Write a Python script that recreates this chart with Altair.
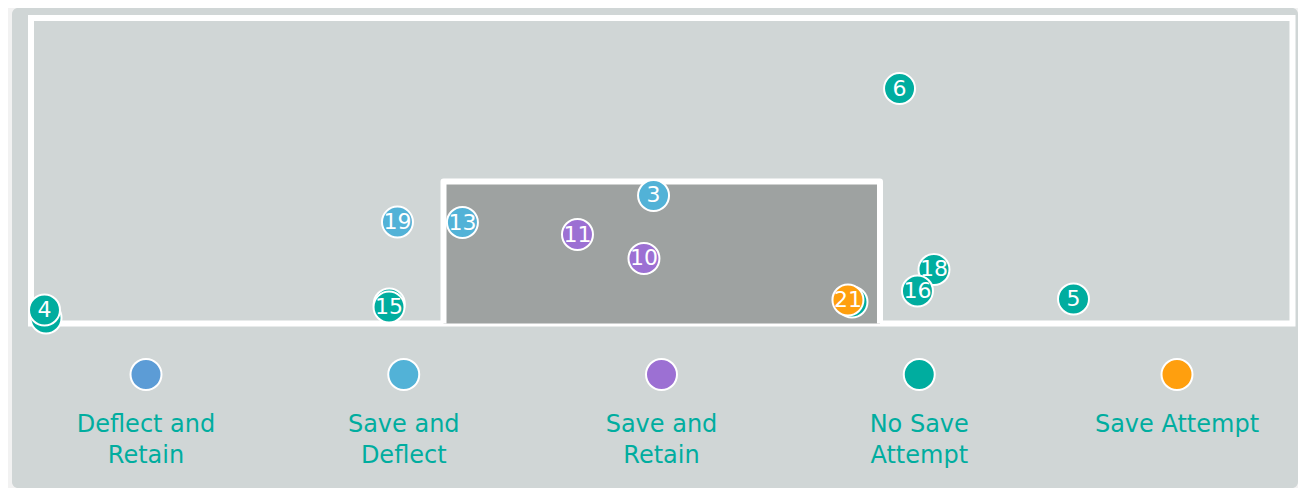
import altair as alt
import pandas as pd

# ---- data -------------------------------------------------------------
outcomes = ["Deflect and Retain", "Save and Deflect", "Save and Retain",
            "No Save Attempt", "Save Attempt"]
outcome_labels = ["Deflect and\nRetain", "Save and\nDeflect", "Save and\nRetain",
                  "No Save\nAttempt", "Save Attempt"]
outcome_colors = ["#5c9cd6", "#52b2d7", "#9c70d3", "#00ad9f", "#ff9f0e"]

# shots (field units: frame 0-100 wide, 0-100 tall); hidden shots first
shot_num = ["", "", "", "6", "3", "19", "13", "11", "10", "18", "16", "5", "21", "15", "4"]
shot_x = [1.19, 28.4, 65.08, 68.85, 49.35, 29.05, 34.2, 43.32, 48.59, 71.58, 70.27,
          82.64, 64.76, 28.38, 1.07]
shot_y = [1.8, 6.4, 7.04, 76.9, 41.9, 33.2, 33.06, 29.13, 21.28, 17.68, 10.64,
          8.02, 7.69, 5.4, 4.42]
shot_outcome = ["No Save Attempt", "No Save Attempt", "No Save Attempt",
                "No Save Attempt", "Save and Deflect", "Save and Deflect",
                "Save and Deflect", "Save and Retain", "Save and Retain",
                "No Save Attempt", "No Save Attempt", "No Save Attempt",
                "Save Attempt", "No Save Attempt", "No Save Attempt"]

frame_x = [0, 100]
frame_y = [0, 100]
goal_x = [32.7, 67.3]
goal_top = 46.5

# ---- tables -----------------------------------------------------------
shots = pd.DataFrame({"num": shot_num, "x": shot_x, "y": shot_y, "outcome": shot_outcome})
frame = pd.DataFrame({"x": [frame_x[0]], "x2": [frame_x[1]],
                      "y": [frame_y[0]], "y2": [frame_y[1]]})
goal = pd.DataFrame({"x": [goal_x[0]], "x2": [goal_x[1]], "y": [0], "y2": [goal_top]})
goal_line = pd.DataFrame({"o": [0, 1, 2, 3],
                          "x": [goal_x[0], goal_x[0], goal_x[1], goal_x[1]],
                          "y": [0, goal_top, goal_top, 0]})
legend = pd.DataFrame({"outcome": outcomes, "label": outcome_labels})

# ---- scales -----------------------------------------------------------
fx = alt.Scale(domain=[0, 100], range=[19, 1280.5], nice=False, zero=False)
fy = alt.Scale(domain=[0, 100], range=[315.5, 10], nice=False, zero=False)
col = alt.Scale(domain=outcomes, range=outcome_colors)
lx = alt.Scale(type="point", domain=outcomes, range=[134, 1165], padding=0)

frame_l = alt.Chart(frame).mark_rect(fillOpacity=0, stroke="white", strokeWidth=6).encode(
    x=alt.X("x:Q", scale=fx, axis=None), x2="x2:Q",
    y=alt.Y("y:Q", scale=fy, axis=None), y2="y2:Q")

goal_l = alt.Chart(goal).mark_rect(fill="#9ea2a1", strokeWidth=0).encode(
    x=alt.X("x:Q", scale=fx, axis=None), x2="x2:Q",
    y=alt.Y("y:Q", scale=fy, axis=None), y2="y2:Q")

goal_posts = alt.Chart(goal_line).mark_line(color="white", strokeWidth=6,
                                            strokeJoin="round").encode(
    x=alt.X("x:Q", scale=fx, axis=None),
    y=alt.Y("y:Q", scale=fy, axis=None),
    order="o:Q")

pts = alt.Chart(shots).mark_circle(size=960, opacity=1, stroke="white",
                                   strokeWidth=2).encode(
    x=alt.X("x:Q", scale=fx, axis=None),
    y=alt.Y("y:Q", scale=fy, axis=None),
    color=alt.Color("outcome:N", scale=col, legend=None))

nums = alt.Chart(shots).mark_text(font="DejaVu Sans", fontSize=22, color="white",
                                  baseline="middle", align="center").encode(
    x=alt.X("x:Q", scale=fx, axis=None),
    y=alt.Y("y:Q", scale=fy, axis=None),
    text="num:N")

field = alt.layer(frame_l, goal_l, goal_posts, pts, nums)

leg_pts = alt.Chart(legend).mark_circle(size=960, opacity=1, stroke="white",
                                        strokeWidth=2).encode(
    x=alt.X("outcome:N", scale=lx, axis=None),
    y=alt.value(366.5),
    color=alt.Color("outcome:N", scale=col, legend=None))

leg_txt = alt.Chart(legend).mark_text(font="DejaVu Sans", fontSize=24, color="#00ad9f",
                                      baseline="alphabetic", align="center",
                                      lineBreak="\n", lineHeight=31).encode(
    x=alt.X("outcome:N", scale=lx, axis=None),
    y=alt.value(423.5),
    text="label:N")

leg = alt.layer(leg_pts, leg_txt)

chart = alt.layer(field, leg).resolve_scale(x="independent").properties(
    width=1286, height=480,
    padding={"left": 4, "right": 0, "top": 0, "bottom": 0},
    background="#f2f2f2",
).configure_view(fill="#d0d6d6", stroke=None, cornerRadius=6)

chart.save("out.html", embed_options={"renderer": "svg", "actions": False})
